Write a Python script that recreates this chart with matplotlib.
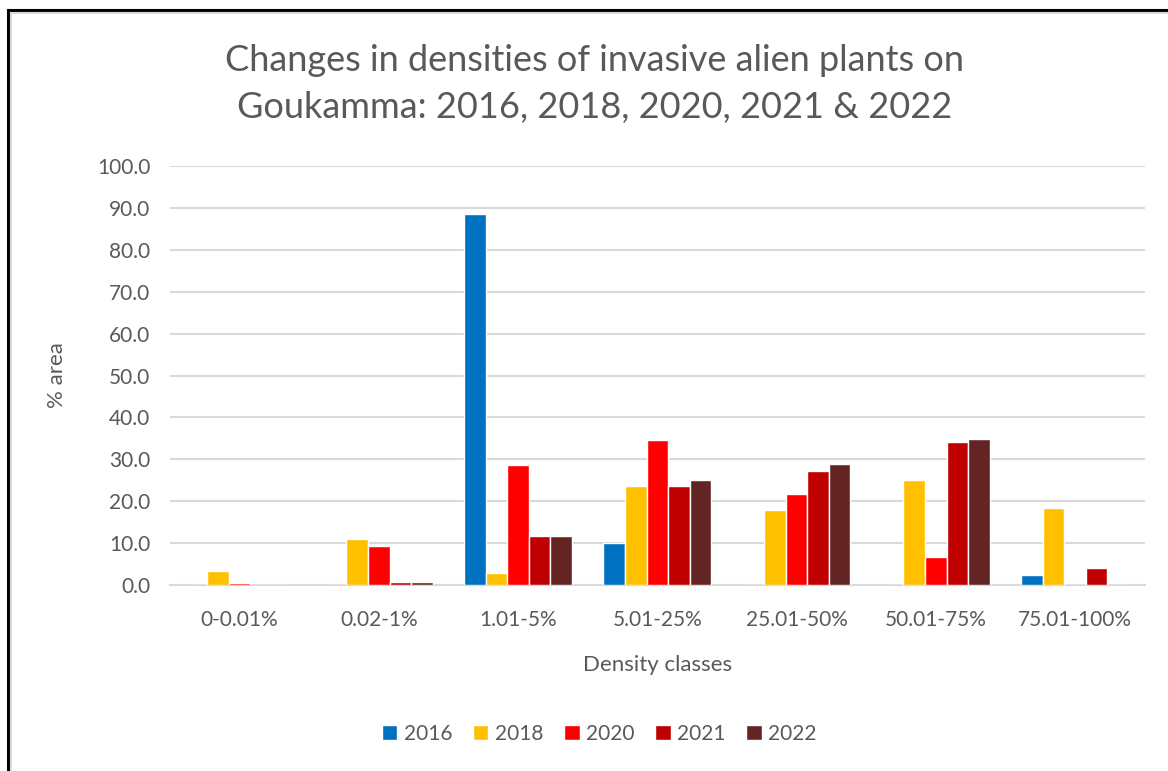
import numpy as np
import matplotlib
matplotlib.use("Agg")
import matplotlib.pyplot as plt
from matplotlib.lines import Line2D

plt.rcParams['font.family'] = ['Lato', 'DejaVu Sans']

# data
categories = ['0-0.01%', '0.02-1%', '1.01-5%', '5.01-25%', '25.01-50%', '50.01-75%', '75.01-100%']
years = ['2016', '2018', '2020', '2021', '2022']
v2016 = [0.0, 0.0, 88.5, 10.0, 0.0, 0.0, 2.5]
v2018 = [3.4, 11.0, 2.9, 23.7, 17.8, 25.0, 18.5]
v2020 = [0.4, 9.3, 28.6, 34.7, 21.7, 6.6, 0.0]
v2021 = [0.0, 0.8, 11.6, 23.7, 27.3, 34.1, 4.1]
v2022 = [0.0, 0.8, 11.6, 25.0, 28.9, 34.8, 0.0]
series = [v2016, v2018, v2020, v2021, v2022]
colors = ['#0070C0', '#FFC000', '#FF0000', '#C00000', '#632523']

text_col = '#595959'
grid_col = '#D9D9D9'

fig = plt.figure(figsize=(11.68, 7.71), dpi=100)
ax = fig.add_axes([0.1455, 0.2412, 0.8345, 0.5435])

x = np.arange(len(categories))
w = 0.155
for i, (vals, c, yr) in enumerate(zip(series, colors, years)):
    ax.bar(x + (i - 2) * w, vals, width=w, color=c, edgecolor='white',
           linewidth=1.0, label=yr, zorder=3)

ax.set_ylim(0, 100)
ax.set_xlim(-0.5, len(categories) - 0.5)
ax.set_yticks(np.arange(0, 101, 10))
ax.set_yticklabels([f'{v:.1f}' for v in np.arange(0, 101, 10)])
ax.set_xticks(x)
ax.set_xticklabels(categories)
ax.tick_params(axis='both', length=0, labelsize=15, colors=text_col)
ax.tick_params(axis='x', pad=18)
ax.tick_params(axis='y', pad=14)
ax.grid(axis='y', color=grid_col, linewidth=1.5, zorder=0)
for s in ['top', 'right', 'left']:
    ax.spines[s].set_visible(False)
ax.spines['bottom'].set_color(grid_col)
ax.spines['bottom'].set_linewidth(1.5)

ax.set_xlabel('Density classes', fontsize=16, color=text_col, labelpad=18)
ax.set_ylabel('% area', fontsize=16, color=text_col, labelpad=22)

fig.text(0.509, 0.891, 'Changes in densities of invasive alien plants on\nGoukamma: 2016, 2018, 2020, 2021 & 2022',
         ha='center', va='center', fontsize=26, color=text_col, linespacing=1.5)

leg = fig.legend(loc='center', bbox_to_anchor=(0.513, 0.048), ncol=5, frameon=False,
                 fontsize=15, handlelength=0.75, handleheight=0.75, handletextpad=0.3,
                 columnspacing=1.0)
for t in leg.get_texts():
    t.set_color(text_col)

# frame lines at top and left of the picture
fig.add_artist(Line2D([8 / 1168, 1], [1 - 10 / 771, 1 - 10 / 771], color='black', linewidth=2.2))
fig.add_artist(Line2D([8 / 1168, 8 / 1168], [0, 1 - 10 / 771], color='black', linewidth=2.2))
fig.add_artist(Line2D([11 / 1168, 1], [1 - 13 / 771, 1 - 13 / 771], color='#D9D9D9', linewidth=1.5))
fig.add_artist(Line2D([11 / 1168, 11 / 1168], [0, 1 - 13 / 771], color='#D9D9D9', linewidth=1.5))

fig.savefig('out.png', dpi=100, facecolor='white')
